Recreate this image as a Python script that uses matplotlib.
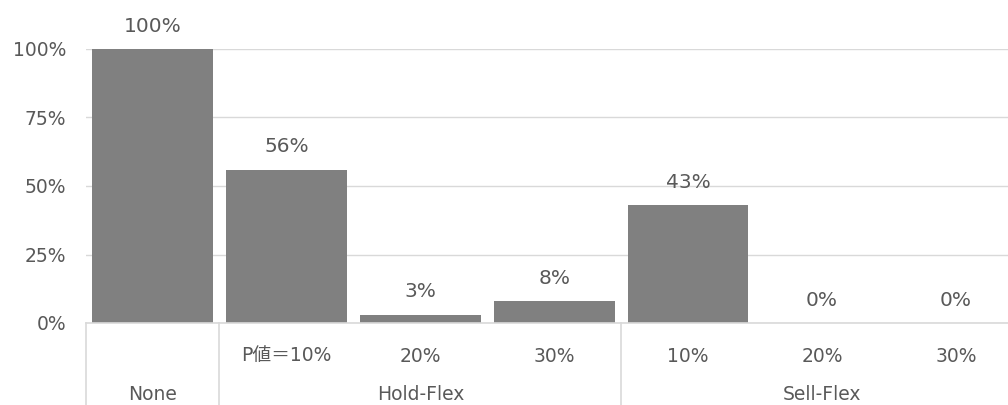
import matplotlib
matplotlib.use("Agg")
import matplotlib.pyplot as plt
from matplotlib.ticker import FuncFormatter, MultipleLocator

# Data
sub_labels = ["", "P値＝10%", "20%", "30%", "10%", "20%", "30%"]
values = [1.00, 0.56, 0.03, 0.08, 0.43, 0.00, 0.00]
value_labels = ["100%", "56%", "3%", "8%", "43%", "0%", "0%"]
groups = ["None", "Hold-Flex", "Sell-Flex"]
group_sizes = [1, 3, 3]

FONT = ["DejaVu Sans", "Noto Sans CJK JP"]
plt.rcParams["font.family"] = FONT
TXT = "#595959"
GRID = "#D9D9D9"
BAR = "#808080"

W, H = 1008, 405
fig = plt.figure(figsize=(W / 100, H / 100), dpi=100)
left_px, right_px = 85.5, 1023.0
top_px, zero_px = 49.0, 323.0
ax = fig.add_axes([left_px / W, (H - zero_px) / H, (right_px - left_px) / W, (zero_px - top_px) / H])

x = list(range(len(values)))
ax.bar(x, values, width=0.9, color=BAR, zorder=3)
ax.set_xlim(-0.5, len(values) - 0.5)
ax.set_ylim(0, 1)

ax.yaxis.set_major_locator(MultipleLocator(0.25))
ax.yaxis.set_major_formatter(FuncFormatter(lambda v, p: f"{int(round(v * 100))}%"))
ax.tick_params(axis="y", length=0, pad=14, labelsize=13.5, labelcolor=TXT)
ax.tick_params(axis="x", length=0, labelbottom=False)
ax.grid(axis="y", color=GRID, linewidth=1.0, zorder=0)
for s in ["top", "right", "left"]:
    ax.spines[s].set_visible(False)
ax.spines["bottom"].set_color(GRID)
ax.spines["bottom"].set_linewidth(1.2)
ax.spines["bottom"].set_zorder(4)

# value labels
for xi, v, lab in zip(x, values, value_labels):
    ax.annotate(lab, (xi, v), xytext=(0, 16.5), textcoords="offset points",
                ha="center", va="center", fontsize=14.5, color=TXT, annotation_clip=False)

# category axis
trans = ax.get_xaxis_transform()
axh = zero_px - top_px
sub_y = -(356 - zero_px) / axh
grp_y = -(395 - zero_px) / axh
for xi, lab in zip(x, sub_labels):
    if lab:
        ax.text(xi, sub_y, lab, transform=trans, ha="center", va="center",
                fontsize=13.5, color=TXT, family=FONT)

start = 0
bounds = [-0.5]
for g, n in zip(groups, group_sizes):
    center = start + (n - 1) / 2
    ax.text(center, grp_y, g, transform=trans, ha="center", va="center",
            fontsize=13.5, color=TXT)
    start += n
    bounds.append(start - 0.5)
for b in bounds:
    ax.plot([b, b], [0, -0.4], transform=trans, color=GRID, linewidth=1.2,
            clip_on=False, zorder=4)

fig.savefig("out.png", dpi=100)
